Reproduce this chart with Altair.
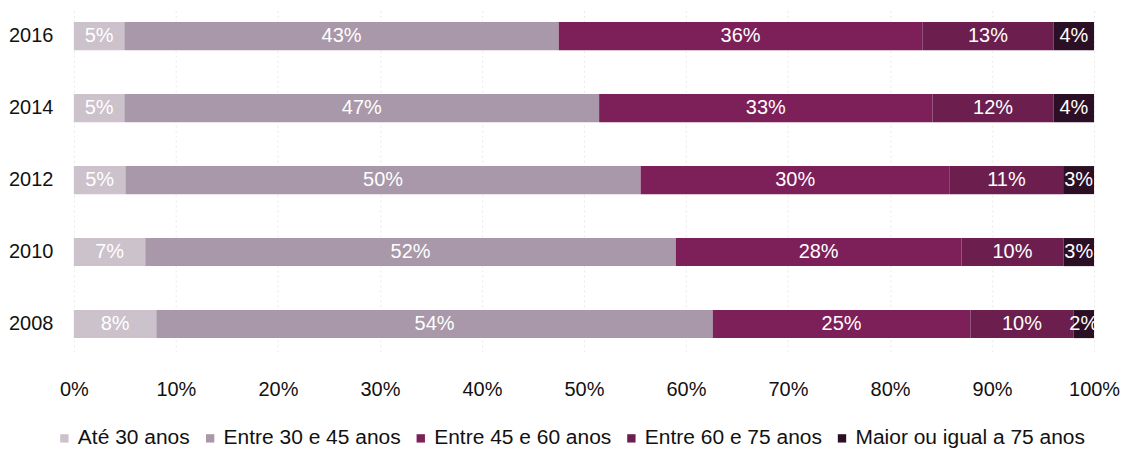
import altair as alt
import pandas as pd

years = ["2016", "2014", "2012", "2010", "2008"]
groups = ["Até 30 anos", "Entre 30 e 45 anos", "Entre 45 e 60 anos",
          "Entre 60 e 75 anos", "Maior ou igual a 75 anos"]
ate30 = [5, 5, 5, 7, 8]
e30_45 = [43, 47, 50, 52, 54]
e45_60 = [36, 33, 30, 28, 25]
e60_75 = [13, 12, 11, 10, 10]
maior75 = [4, 4, 3, 3, 2]
colors = ["#cbc2cb", "#a898a9", "#7d1f58", "#6c1f4f", "#2b0f25"]
tick_values = [i / 10 for i in range(11)]

series = [ate30, e30_45, e45_60, e60_75, maior75]
rows = []
for gi, (g, vals) in enumerate(zip(groups, series)):
    for y, v in zip(years, vals):
        rows.append({"year": y, "group": g, "order": gi, "value": v})
df = pd.DataFrame(rows)

FONT = "Liberation Sans, Arial"

base = alt.Chart(df).transform_joinaggregate(
    total="sum(value)", groupby=["year"]
).transform_window(
    cum="sum(value)", groupby=["year"], sort=[alt.SortField("order")], frame=[None, 0]
).transform_calculate(
    x0="(datum.cum - datum.value) / datum.total",
    x1="datum.cum / datum.total",
    xm="(datum.cum - datum.value / 2) / datum.total",
    label="datum.value + '%'",
)

yenc = alt.Y("year:N", sort=years, title=None,
             scale=alt.Scale(paddingInner=0.61, paddingOuter=0.19),
             axis=alt.Axis(domain=False, ticks=False, labelPadding=21,
                           labelFontSize=20, labelColor="#111", labelFont=FONT))

bars = base.mark_bar().encode(
    x=alt.X("x0:Q", scale=alt.Scale(domain=[0, 1], nice=False), title=None,
            axis=alt.Axis(values=tick_values, format=".0%", domain=False, ticks=False,
                          labelPadding=28, labelFontSize=20, labelColor="#111",
                          labelFont=FONT, labelFlush=False, grid=True,
                          gridColor="#e9e9e9", gridDash=[2, 3])),
    x2="x1:Q",
    y=yenc,
    color=alt.Color("group:N", scale=alt.Scale(domain=groups, range=colors),
                    legend=alt.Legend(title=None, orient="none", direction="horizontal",
                                      legendX=-20, legendY=420, symbolType="square",
                                      symbolSize=70, symbolStrokeWidth=0,
                                      labelFontSize=21, labelFont=FONT, labelColor="#111",
                                      labelOffset=3, columnPadding=9, labelLimit=400)),
    order=alt.Order("order:Q"),
)

text = base.mark_text(color="white", fontSize=20, font=FONT).encode(
    x="xm:Q",
    y=alt.Y("year:N", sort=years),
    text="label:N",
)

chart = (bars + text).properties(
    width=1022, height=344,
    padding={"left": 0, "top": 0, "right": 0, "bottom": 5},
).configure_view(stroke=None)

chart.save("out.html", embed_options={"renderer": "svg", "actions": False})
